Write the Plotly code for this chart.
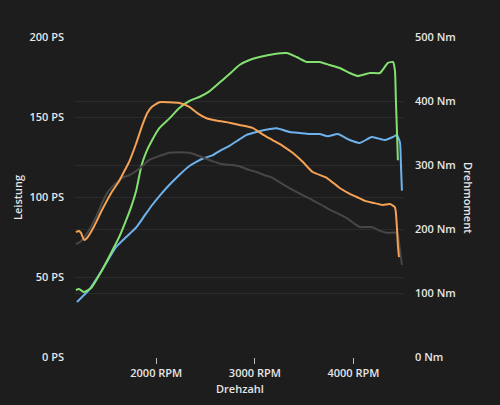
import plotly.graph_objects as go

# Tuned power (PS)
rpm_p_tuned = [1186, 1217, 1268, 1339, 1451, 1542, 1624, 1685, 1746, 1797, 1847, 1898, 1959, 2031,
               2132, 2234, 2336, 2437, 2539, 2671, 2763, 2844, 2946, 3048, 3200, 3322, 3424, 3525,
               3658, 3760, 3861, 3963, 4045, 4167, 4269, 4350, 4401, 4421, 4431, 4441, 4451]
ps_tuned = [41.9, 42.5, 40.6, 43.1, 54.4, 65, 75, 84, 93.8, 104, 118.8, 128, 135.6, 143,
            149, 155.6, 160, 162.5, 166, 173, 178, 182.5, 185.6, 187.5, 189.4, 190, 187.5, 184.4,
            184.4, 182.5, 180.6, 177.5, 175.6, 177.5, 177.5, 183.8, 184.4, 179, 160, 142, 123]

# Stock power (PS)
rpm_p_stock = [1196, 1318, 1451, 1593, 1695, 1797, 1878, 1959, 2051, 2132, 2234, 2336, 2407, 2488,
               2570, 2661, 2743, 2844, 2916, 3017, 3099, 3221, 3353, 3455, 3556, 3658, 3740, 3841,
               3963, 4065, 4187, 4319, 4401, 4441, 4472, 4482, 4492]
ps_stock = [34.4, 41.9, 54.4, 68.8, 75, 81, 88, 95, 102, 107.5, 113.8, 119.4, 122, 124.4,
            126, 129.4, 132, 136, 138.8, 140.6, 141.9, 143, 140.6, 140, 139.4, 139.4, 138, 139.4,
            135.6, 133.8, 137.5, 135.6, 137.5, 138.8, 134, 120, 104]

# Tuned torque (Nm)
rpm_t_tuned = [1186, 1217, 1237, 1268, 1298, 1369, 1451, 1542, 1624, 1685, 1725, 1797, 1858, 1908,
               1949, 2031, 2132, 2234, 2336, 2417, 2509, 2621, 2743, 2844, 2977, 3078, 3180, 3282,
               3383, 3485, 3587, 3729, 3861, 3963, 4035, 4116, 4197, 4299, 4370, 4421, 4441, 4451, 4462]
nm_tuned = [195, 197, 194, 183, 186, 204, 230, 256, 275, 293, 305, 334, 362, 381,
            390, 398, 398, 397, 391, 381, 373, 369, 366, 362.5, 358, 348, 339, 330,
            319, 305, 289, 280, 264, 255, 250, 244, 241, 237.5, 239, 234, 203, 175, 156]

# Stock torque (Nm)
rpm_t_stock = [1186, 1237, 1318, 1390, 1451, 1502, 1552, 1603, 1654, 1725, 1797, 1858, 1929, 2031,
               2132, 2234, 2336, 2407, 2488, 2570, 2661, 2773, 2844, 2946, 3017, 3099, 3180, 3282,
               3383, 3485, 3587, 3679, 3760, 3861, 3933, 4014, 4065, 4187, 4269, 4340, 4441, 4462,
               4472, 4492]
nm_stock = [176.6, 181, 198, 219, 240.6, 256, 265.6, 273, 280, 284, 290.6, 298, 308, 314,
            319, 320, 319, 315.6, 311, 306, 301.6, 300, 298, 292, 289, 284, 280, 270,
            261, 253, 245, 237.5, 230, 223, 217, 208, 203, 203, 197, 194, 194, 180,
            167, 144]

x_ticks = [2000, 3000, 4000]
x_tick_labels = ["2000 RPM", "3000 RPM", "4000 RPM"]
ps_ticks = [0, 50, 100, 150, 200]
ps_tick_labels = ["0 PS", "50 PS", "100 PS", "150 PS", "200 PS"]
nm_ticks = [0, 100, 200, 300, 400, 500]
nm_tick_labels = ["0 Nm", "100 Nm", "200 Nm", "300 Nm", "400 Nm", "500 Nm"]

BG = "#1d1d1d"
GRID = "#2b2b2b"
TXT = "#e6e6e6"
FONT = "Open Sans"
W = 600

L, R, T, B = 75, 96, 37, 48
PW = 500 - L - R
PH = 405 - T - B


def px_to_paper(x, y):
    return (x - L) / PW, (405 - B - y) / PH


fig = go.Figure()
line_shape = dict(shape="spline", smoothing=0.5)
fig.add_trace(go.Scatter(x=rpm_t_stock, y=nm_stock, yaxis="y2", mode="lines",
                         line=dict(color="#474747", width=2, **line_shape), name="Drehmoment Serie"))
fig.add_trace(go.Scatter(x=rpm_t_tuned, y=nm_tuned, yaxis="y2", mode="lines",
                         line=dict(color="#f5a255", width=2, **line_shape), name="Drehmoment Tuning"))
fig.add_trace(go.Scatter(x=rpm_p_stock, y=ps_stock, mode="lines",
                         line=dict(color="#6eb2ee", width=2, **line_shape), name="Leistung Serie"))
fig.add_trace(go.Scatter(x=rpm_p_tuned, y=ps_tuned, mode="lines",
                         line=dict(color="#84e070", width=2, **line_shape), name="Leistung Tuning"))

tf = dict(family=FONT, size=11, color=TXT, weight=W)

ann = []
for text, px, py, ang in [("Leistung", 17, 198, -90), ("Drehmoment", 469, 198, 90), ("Drehzahl", 240, 388, 0)]:
    ax, ay = px_to_paper(px, py)
    ann.append(dict(text=text, x=ax, y=ay, xref="paper", yref="paper", showarrow=False,
                    xanchor="center", yanchor="middle", textangle=ang, font=tf))

fig.update_layout(
    width=500, height=405,
    margin=dict(l=L, r=R, t=T, b=B),
    paper_bgcolor=BG, plot_bgcolor=BG,
    showlegend=False,
    font=tf,
    xaxis=dict(range=[1176, 4513], tickvals=x_ticks, ticktext=x_tick_labels,
               showgrid=False, zeroline=False, showline=False,
               ticks="outside", ticklen=6, tickcolor="#bbbbbb", tickwidth=1,
               tickfont=tf),
    yaxis=dict(range=[0, 200], tickvals=ps_ticks, ticktext=ps_tick_labels,
               showgrid=True, gridcolor=GRID, gridwidth=1, zeroline=False,
               ticklabelstandoff=10, tickfont=tf),
    yaxis2=dict(range=[0, 500], tickvals=nm_ticks, ticktext=nm_tick_labels,
                overlaying="y", side="right",
                showgrid=True, gridcolor=GRID, gridwidth=1, zeroline=False,
                ticklabelstandoff=10, tickfont=tf),
    annotations=ann,
)

fig.write_html("out.html")
